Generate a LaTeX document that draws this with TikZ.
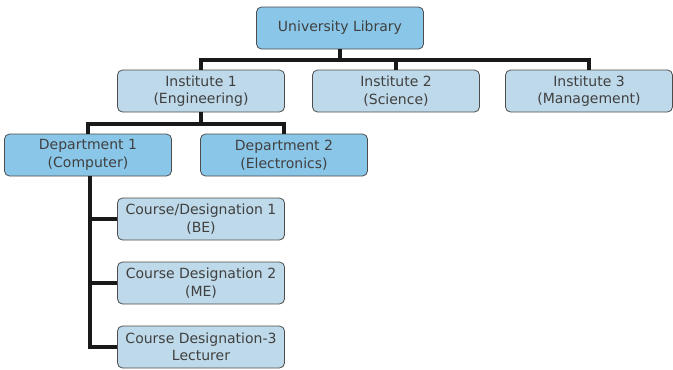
\documentclass[tikz,border=0pt]{standalone}
\usepackage{fontspec}
\setmainfont{DejaVu Sans}
\usepackage{tikz}
\usetikzlibrary{calc}

\definecolor{boxdark}{RGB}{138,198,232}
\definecolor{boxlight}{RGB}{190,217,233}

\begin{document}
\begin{tikzpicture}[x=1pt,y=-1pt,node distance=195pt,
                    box/.style={rectangle,rounded corners=5pt,draw=black!70,line width=0.8pt,
                                minimum width=167pt,minimum height=42pt,align=center,
                                inner sep=1pt,text=black!75,font=\fontsize{14}{17.5}\selectfont},
                    darkbox/.style={box,fill=boxdark},
                    lightbox/.style={box,fill=boxlight},
                    link/.style={line width=3.2pt,black!90}]
  \useasboundingbox (0,0) rectangle (673,370);

  \node[darkbox] (lib) at (340,28) {University Library};

  \node[lightbox] (ins1) at (201,91)         {Institute 1\\(Engineering)};
  \node[lightbox] (ins2) [right of=ins1]     {Institute 2\\(Science)};
  \node[lightbox] (ins3) [right of=ins2,xshift=-2pt] {Institute 3\\(Management)};

  \node[darkbox] (dep1) at (88,155)          {Department 1\\(Computer)};
  \node[darkbox] (dep2) [right of=dep1,xshift=1pt] {Department 2\\(Electronics)};

  \node[lightbox] (crs1) at (201,219)        {Course/Designation 1\\(BE)};
  \node[lightbox] (crs2) [below of=crs1,node distance=64pt] {Course Designation 2\\(ME)};
  \node[lightbox] (crs3) [below of=crs2,node distance=64pt] {Course Designation-3\\Lecturer};

  \coordinate (bus1) at (lib.south |- 0,60);
  \coordinate (bus2) at (ins1.south |- 0,124);
  \coordinate (trunk) at ($(dep1.south)+(2,0)$);

  \draw[link] (lib.south) -- (bus1);
  \draw[link] (ins1.north) |- (bus1) -| (ins3.north);
  \draw[link] (ins2.north) -- (ins2.north |- bus1);

  \draw[link] (ins1.south) -- (bus2);
  \draw[link] (dep1.north) |- (bus2) -| (dep2.north);

  \draw[link] (trunk) |- (crs3.west);
  \draw[link] (trunk |- crs1.west) -- (crs1.west);
  \draw[link] (trunk |- crs2.west) -- (crs2.west);
\end{tikzpicture}
\end{document}
